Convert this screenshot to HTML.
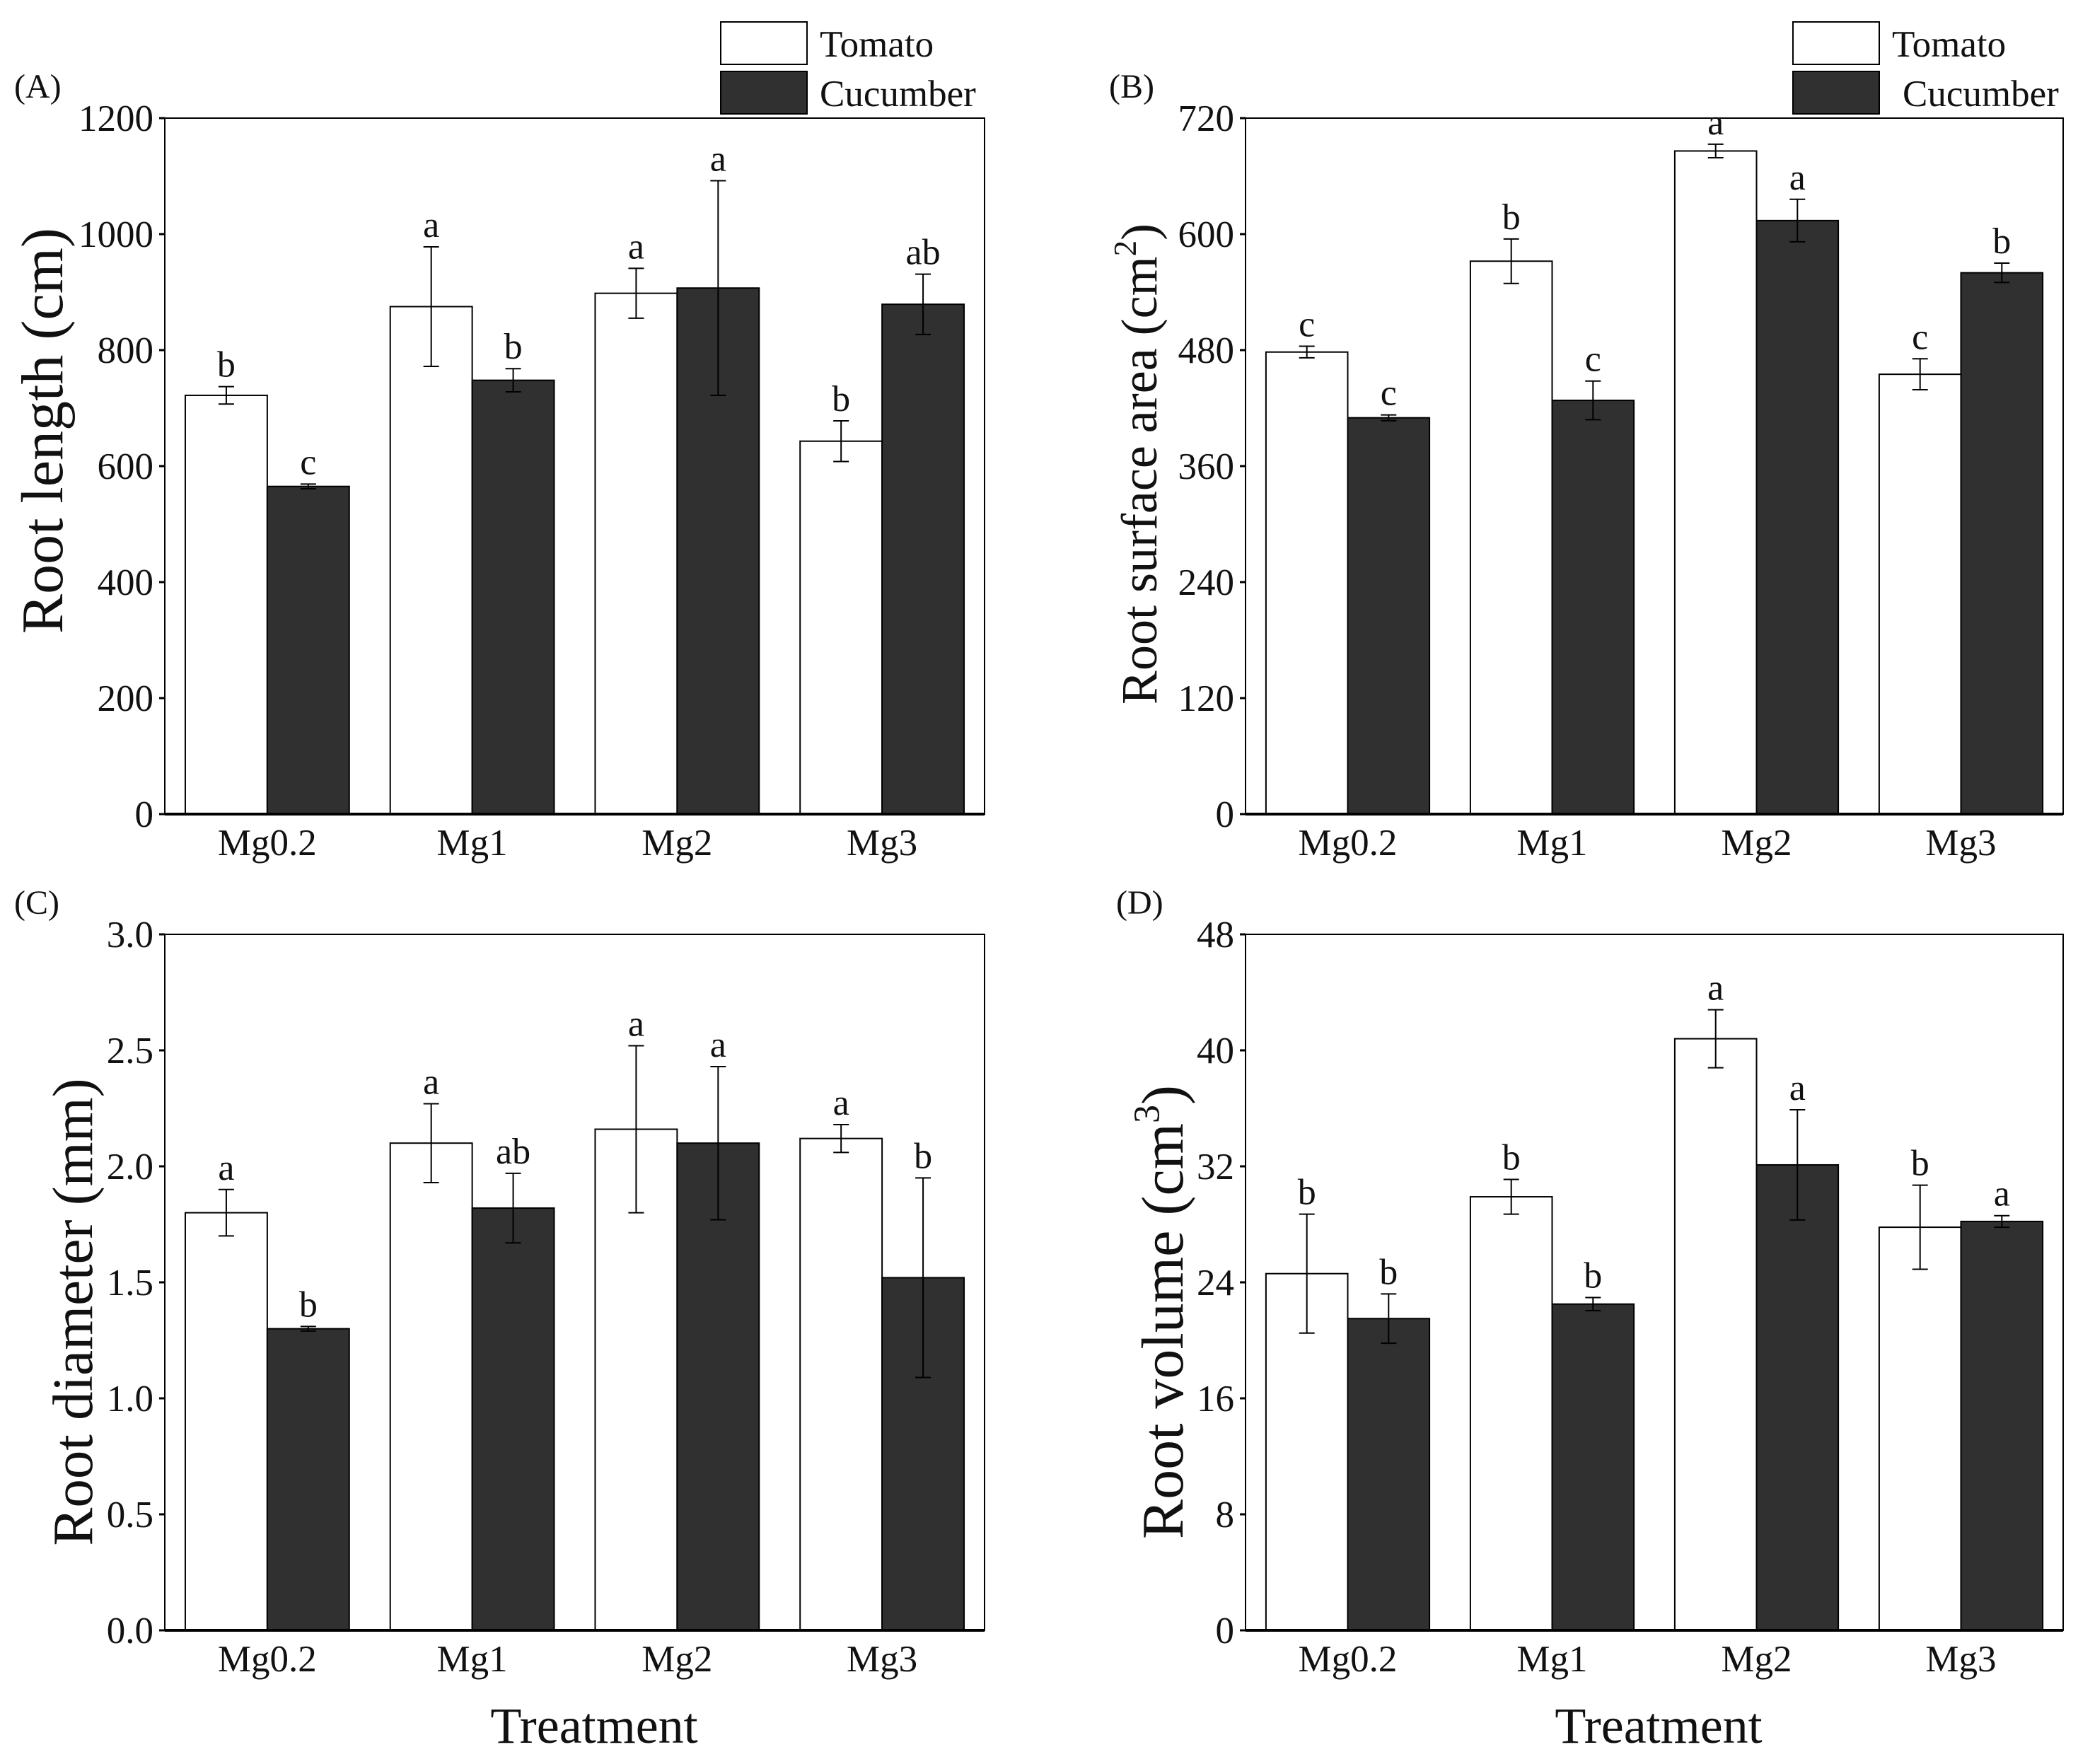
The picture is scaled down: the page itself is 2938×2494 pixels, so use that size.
<!DOCTYPE html>
<html><head><meta charset="utf-8"><style>
html,body{margin:0;padding:0;background:#fff}
svg{display:block}
text{font-family:"Liberation Serif",serif;fill:#111}
</style></head><body>
<svg id="chart" xmlns="http://www.w3.org/2000/svg" width="2938" height="2494" viewBox="0 0 2938 2494"></svg>
<script>
const categories = ["Mg0.2","Mg1","Mg2","Mg3"];
const aTomato = [722,875,898,643];
const aTomatoErr = [15,103,43,35];
const aCucumber = [565,748,907,879];
const aCucumberErr = [4,20,185,52];
const aTomatoLetters = ["b","a","a","b"];
const aCucumberLetters = ["c","b","a","ab"];
const aTicks = [0,200,400,600,800,1000,1200];

const bTomato = [478,572,686,455];
const bTomatoErr = [6,23,7,16];
const bCucumber = [410,428,614,560];
const bCucumberErr = [3,20,22,10];
const bTomatoLetters = ["c","b","a","c"];
const bCucumberLetters = ["c","c","a","b"];
const bTicks = [0,120,240,360,480,600,720];

const cTomato = [1.80,2.10,2.16,2.12];
const cTomatoErr = [0.10,0.17,0.36,0.06];
const cCucumber = [1.30,1.82,2.10,1.52];
const cCucumberErr = [0.01,0.15,0.33,0.43];
const cTomatoLetters = ["a","a","a","a"];
const cCucumberLetters = ["b","ab","a","b"];
const cTicks = [0.0,0.5,1.0,1.5,2.0,2.5,3.0];

const dTomato = [24.6,29.9,40.8,27.8];
const dTomatoErr = [4.1,1.2,2.0,2.9];
const dCucumber = [21.5,22.5,32.1,28.2];
const dCucumberErr = [1.7,0.45,3.8,0.4];
const dTomatoLetters = ["b","b","a","b"];
const dCucumberLetters = ["b","b","a","a"];
const dTicks = [0,8,16,24,32,40,48];

const NS="http://www.w3.org/2000/svg";
const svg=document.getElementById('chart');
function mk(tag,attrs,parent,txt){const e=document.createElementNS(NS,tag);for(const k in attrs)e.setAttribute(k,attrs[k]);if(txt!==undefined)e.textContent=txt;(parent||svg).appendChild(e);return e;}

function panel(o){
  const g=mk('g',{});
  
  
  const L=o.x0,R=o.x1,T=o.y0,B=o.y1;
  const ymax=o.ticks[o.ticks.length-1];
  const y=v=>B-(v/ymax)*(B-T);
  const gw=(R-L)/categories.length;
  const bw=gw*0.4;
  const fr=mk('rect',{x:L,y:T,width:R-L,height:B-T,fill:'none',stroke:'#000','stroke-width':2},g);
  
  
  o.ticks.forEach(t=>{
    const tl=mk('line',{x1:L-8,x2:L,y1:y(t),y2:y(t),stroke:'#000','stroke-width':3},g);
    
    
    const tx=mk('text',{x:L-16,y:y(t)+18,'text-anchor':'end','font-size':53},g,o.fmt(t));
    
    
  });
  const series=[[o.tom,o.tomE,o.tomL,'#fff','tomato'],[o.cuc,o.cucE,o.cucL,'#303030','cucumber']];
  categories.forEach((c,i)=>{
    const gx=L+gw*i+gw*0.1;
    series.forEach((s,j)=>{
      const x=gx+bw*j,v=s[0][i],e=s[1][i];
      const r=mk('rect',{x:x,y:y(v),width:bw,height:B-y(v),fill:s[3],stroke:'#000','stroke-width':2},g);
      
      
      const cx=x+bw/2;
      const eg=mk('g',{stroke:'#000','stroke-width':2},g);
      
      
      mk('line',{x1:cx,x2:cx,y1:y(v+e),y2:y(v-e)},eg);
      mk('line',{x1:cx-11,x2:cx+11,y1:y(v+e),y2:y(v+e)},eg);
      mk('line',{x1:cx-11,x2:cx+11,y1:y(v-e),y2:y(v-e)},eg);
      const lt=mk('text',{x:cx,y:y(v+e)-14,'text-anchor':'middle','font-size':52},g,s[2][i]);
      
      
    });
    const cl=mk('text',{x:L+gw*(i+0.5),y:B+58,'text-anchor':'middle','font-size':53},g,c);
    
    
  });
  const bl=mk('line',{x1:L,x2:R,y1:B,y2:B,stroke:'#000','stroke-width':4},g);
  
  
  const pl=mk('text',{x:o.lx,y:o.ly,'font-size':48},g,'('+o.id+')');
  
  
  const yt=mk('text',{x:0,y:0,'text-anchor':'middle','font-size':o.ts,transform:`translate(${o.tx},${o.ty}) rotate(-90)`},g);
  
  
  yt.appendChild(document.createTextNode(o.title));
  if(o.sup){const sp=mk('tspan',{'font-size':Math.round(o.ts*0.62),dy:-o.ts*0.4},yt,o.sup);mk('tspan',{dy:o.ts*0.4},yt,')');}
  if(o.legend){
    const lg=mk('g',{},g);
    
    
    const lx=o.legend[0];
    const e1=mk('rect',{x:lx,y:31,width:122,height:60,fill:'#fff',stroke:'#000','stroke-width':2},lg);
    
    
    const t1=mk('text',{x:lx+140,y:80,'font-size':53},lg,'Tomato');
    
    
    const e2=mk('rect',{x:lx,y:101,width:122,height:60,fill:'#303030',stroke:'#000','stroke-width':2},lg);
    
    
    const t2=mk('text',{x:lx+o.legend[1],y:150,'font-size':53},lg,'Cucumber');
    
    
  }
}
const f0=t=>String(t), f1=t=>t.toFixed(1);
panel({id:'A',x0:233,x1:1392,y0:167,y1:1151,ticks:aTicks,fmt:f0,tom:aTomato,tomE:aTomatoErr,cuc:aCucumber,cucE:aCucumberErr,tomL:aTomatoLetters,cucL:aCucumberLetters,lx:20,ly:138,title:'Root length (cm)',ts:84,tx:88,ty:609,legend:[1019,140]});
panel({id:'B',x0:1761,x1:2917,y0:167,y1:1151,ticks:bTicks,fmt:f0,tom:bTomato,tomE:bTomatoErr,cuc:bCucumber,cucE:bCucumberErr,tomL:bTomatoLetters,cucL:bCucumberLetters,lx:1568,ly:138,title:'Root surface area (cm',sup:'2',ts:72,tx:1635,ty:656,legend:[2535,155]});
panel({id:'C',x0:233,x1:1392,y0:1321,y1:2305,ticks:cTicks,fmt:f1,tom:cTomato,tomE:cTomatoErr,cuc:cCucumber,cucE:cCucumberErr,tomL:cTomatoLetters,cucL:cCucumberLetters,lx:20,ly:1292,title:'Root diameter (mm)',ts:81,tx:130,ty:1855});
panel({id:'D',x0:1761,x1:2917,y0:1321,y1:2305,ticks:dTicks,fmt:f0,tom:dTomato,tomE:dTomatoErr,cuc:dCucumber,cucE:dCucumberErr,tomL:dTomatoLetters,cucL:dCucumberLetters,lx:1578,ly:1292,title:'Root volume (cm',sup:'3',ts:84,tx:1672,ty:1855});
[[840],[2345]].forEach((p,i)=>{
  const t=mk('text',{x:p[0],y:2464,'text-anchor':'middle','font-size':72},svg,'Treatment');
  
  
});
</script>
</body></html>
